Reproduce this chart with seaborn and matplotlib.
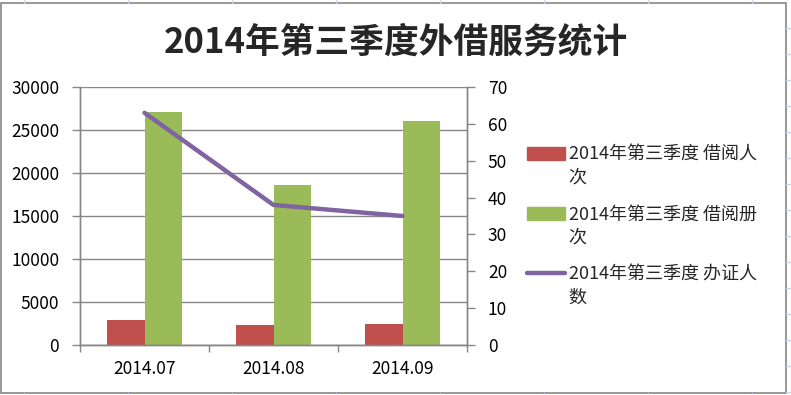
import matplotlib
matplotlib.use('Agg')
import matplotlib.pyplot as plt
import matplotlib.patches as mpatches
import matplotlib.transforms as mtransforms
from matplotlib.lines import Line2D
from matplotlib.legend_handler import HandlerPatch, HandlerLine2D
import numpy as np
import pandas as pd
import seaborn as sns

# data
months = ['2014.07', '2014.08', '2014.09']
readers = [2900, 2300, 2450]      # 借阅人次 (left axis)
volumes = [27100, 18600, 26000]   # 借阅册次 (left axis)
new_cards = [63, 38, 35]          # 办证人数 (right axis)

title = '2014年第三季度外借服务统计'
series = ['2014年第三季度 借阅人次', '2014年第三季度 借阅册次', '2014年第三季度 办证人数']
legend_labels = ['2014年第三季度 借阅人\n次', '2014年第三季度 借阅册\n次', '2014年第三季度 办证人\n数']
left_ticks = [0, 5000, 10000, 15000, 20000, 25000, 30000]
right_ticks = [0, 10, 20, 30, 40, 50, 60, 70]

RED, GREEN, PURPLE = '#C0504D', '#9BBB59', '#8064A2'
GREY = '#868686'
SHEET = '#C9D3E3'

sns.set_theme(style='white')
plt.rcParams['font.family'] = ['Noto Sans CJK SC', 'DejaVu Sans']


class RaisedPatch(HandlerPatch):
    # keep the swatch level with the first line of a two-line label
    def create_artists(self, legend, orig_handle, xdescent, ydescent, width, height, fontsize, trans):
        t = mtransforms.Affine2D().translate(0, 0.75 * fontsize) + trans
        return super().create_artists(legend, orig_handle, xdescent, ydescent, width, height, fontsize, t)


class RaisedLine(HandlerLine2D):
    def create_artists(self, legend, orig_handle, xdescent, ydescent, width, height, fontsize, trans):
        t = mtransforms.Affine2D().translate(0, 0.75 * fontsize) + trans
        return super().create_artists(legend, orig_handle, xdescent, ydescent, width, height, fontsize, t)


def make_frame():
    return pd.DataFrame({
        'month': months * 2,
        'value': readers + volumes,
        'series': [series[0]] * len(months) + [series[1]] * len(months),
    })


def sheet_lines(fig):
    # faint spreadsheet grid peeking out around the chart area
    for x in [24, 128, 232, 336, 440, 544, 648, 752]:
        fig.add_artist(Line2D([x / 791] * 2, [392 / 395, 1], transform=fig.transFigure, color=SHEET, lw=1))
        fig.add_artist(Line2D([x / 791] * 2, [0, 2 / 395], transform=fig.transFigure, color=SHEET, lw=1))
    for y in np.arange(28, 395, 26):
        fig.add_artist(Line2D([786 / 791, 1], [1 - y / 395] * 2, transform=fig.transFigure, color=SHEET, lw=1))


def main():
    df = make_frame()
    fig = plt.figure(figsize=(7.91, 3.95), dpi=100)
    ax = fig.add_axes([80 / 791, 50 / 395, 387 / 791, 258 / 395])

    sns.barplot(data=df, x='month', y='value', hue='series', palette=[RED, GREEN],
                width=0.58, saturation=1, linewidth=0, legend=False, ax=ax)
    ax.set_ylim(0, 30000)
    ax.set_yticks(left_ticks)
    ax.yaxis.grid(True, color=GREY, lw=1)
    ax.set_axisbelow(True)
    ax.set_xlabel('')
    ax.set_ylabel('')

    ax2 = ax.twinx()
    sns.lineplot(x=np.arange(len(months)), y=new_cards, color=PURPLE, lw=3.2, ax=ax2)
    ax2.set_ylim(0, 70)
    ax2.set_yticks(right_ticks)
    ax2.set_ylabel('')
    ax.set_xlim(-0.5, len(months) - 0.5)

    # category ticks sit on the boundaries
    ax.set_xticks(np.arange(-0.5, len(months)), minor=True)
    ax.tick_params(axis='x', which='major', length=0, pad=11, labelsize=12.5, labelcolor='black')
    ax.tick_params(axis='x', which='minor', bottom=True, length=5, color=GREY, width=1)
    ax.tick_params(axis='y', left=True, length=6, color=GREY, width=1, pad=9, labelsize=12.5, labelcolor='black')
    ax2.tick_params(axis='y', right=True, length=6, color=GREY, width=1, pad=9, labelsize=12.5, labelcolor='black')

    for a in (ax, ax2):
        a.spines['top'].set_visible(False)
        for s in ('left', 'right', 'bottom'):
            a.spines[s].set_color(GREY)
            a.spines[s].set_linewidth(1)

    fig.text(0.5, (395 - 42) / 395, title, ha='center', va='center', fontsize=25, fontweight='bold')

    handles = [mpatches.Patch(color=RED), mpatches.Patch(color=GREEN), Line2D([], [], color=PURPLE, lw=3.2)]
    leg = fig.legend(handles, legend_labels, loc='upper left', bbox_to_anchor=(527 / 791, (395 - 146) / 395),
                     frameon=False, fontsize=13, borderpad=0, borderaxespad=0, handlelength=2.1,
                     handletextpad=0.2, labelspacing=1.1,
                     handler_map={mpatches.Patch: RaisedPatch(), Line2D: RaisedLine()})
    for t in leg.get_texts():
        t.set_linespacing(1.3)

    # chart area border
    fig.add_artist(mpatches.Rectangle((1 / 791, 2 / 395), 785 / 791, 390 / 395, transform=fig.transFigure,
                                      fill=False, ec=GREY, lw=1.2))
    sheet_lines(fig)

    fig.savefig('out.png', dpi=100)


if __name__ == '__main__':
    main()
